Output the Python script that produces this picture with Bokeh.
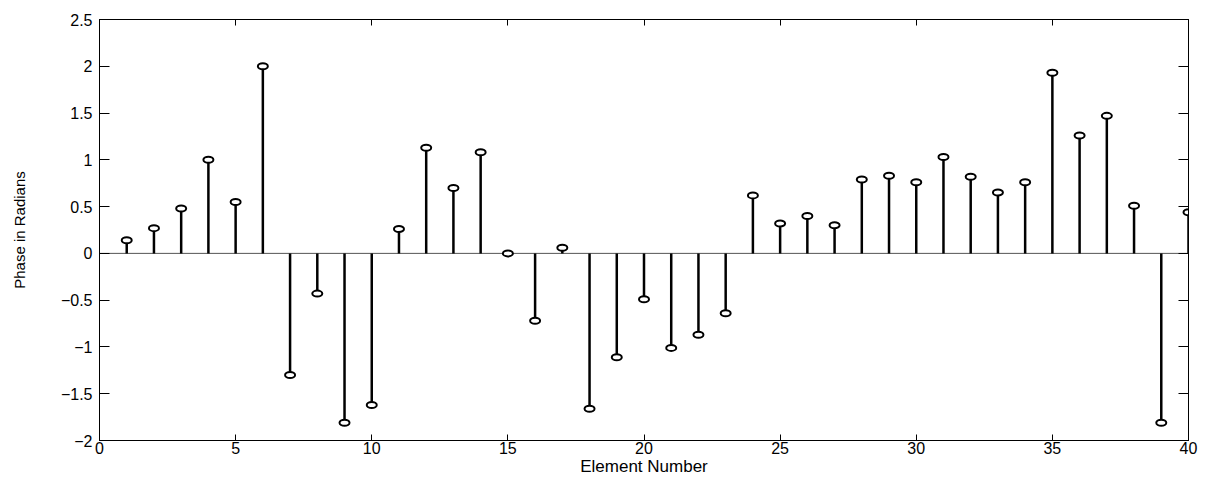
from bokeh.plotting import figure
from bokeh.models import Range1d, LinearAxis, FixedTicker, ColumnDataSource
from bokeh.embed import file_html
from bokeh.resources import INLINE

# Data (element number -> phase in radians)
elements = list(range(1, 41))
phase = [0.14, 0.27, 0.48, 1.00, 0.55, 2.00, -1.30, -0.43, -1.81, -1.62,
         0.26, 1.13, 0.70, 1.08, 0.00, -0.72, 0.06, -1.66, -1.11, -0.49,
         -1.01, -0.87, -0.64, 0.62, 0.32, 0.40, 0.30, 0.79, 0.83, 0.76,
         1.03, 0.82, 0.65, 0.76, 1.93, 1.26, 1.47, 0.51, -1.81, 0.44]
x_ticks = [0, 5, 10, 15, 20, 25, 30, 35, 40]
y_ticks = [-2, -1.5, -1, -0.5, 0, 0.5, 1, 1.5, 2, 2.5]
x_label = "Element Number"
y_label = "Phase in Radians"

FONT = "Liberation Sans"

src = ColumnDataSource(dict(x=elements, y=phase, base=[0] * len(elements)))

p = figure(width=1205, height=478, output_backend="svg", toolbar_location=None,
           x_range=Range1d(0, 40), y_range=Range1d(-2, 2.5),
           min_border_left=99, min_border_right=17, min_border_top=19,
           min_border_bottom=37)

p.xgrid.visible = False
p.ygrid.visible = False
p.outline_line_color = "black"
p.outline_line_width = 1
p.background_fill_color = "white"
p.border_fill_color = "white"

# baseline
p.line(x=[0, 40], y=[0, 0], line_color="#555555", line_width=1)

# stems
p.segment(x0="x", y0="base", x1="x", y1="y", source=src,
          line_color="black", line_width=2.5)

# markers (drawn as slightly wide ellipses, as in reference)
p.ellipse(x="x", y="y", width=10, height=6, width_units="screen",
          height_units="screen", source=src, fill_color="white",
          line_color="black", line_width=2)

def style(ax, ticks, tick_in, show_labels=True):
    ax.ticker = FixedTicker(ticks=ticks)
    ax.minor_tick_line_color = None
    ax.major_tick_in = tick_in
    ax.major_tick_out = 0
    ax.axis_line_color = "black"
    ax.major_tick_line_color = "black"
    ax.major_label_text_font = FONT
    ax.major_label_text_font_size = "16px"
    ax.major_label_text_color = "black" if show_labels else None
    ax.axis_label_text_font = FONT
    ax.axis_label_text_font_style = "normal"
    ax.axis_label_text_color = "black"

xa = p.xaxis[0]
style(xa, x_ticks, 6)
xa.major_label_standoff = 1
xa.axis_label = x_label
xa.axis_label_text_font_size = "17px"
xa.axis_label_standoff = 0

ya = p.yaxis[0]
style(ya, y_ticks, 10)
ya.major_label_standoff = 7
ya.axis_label = y_label
ya.axis_label_text_font_size = "15px"
ya.axis_label_standoff = 30

top = LinearAxis()
style(top, x_ticks, 6, show_labels=False)
top.major_label_text_font_size = "0px"
top.major_label_standoff = 0
p.add_layout(top, "above")

right = LinearAxis()
style(right, y_ticks, 10, show_labels=False)
right.major_label_text_font_size = "0px"
right.major_label_standoff = 0
p.add_layout(right, "right")

open("out.html", "w").write(file_html(p, INLINE))
